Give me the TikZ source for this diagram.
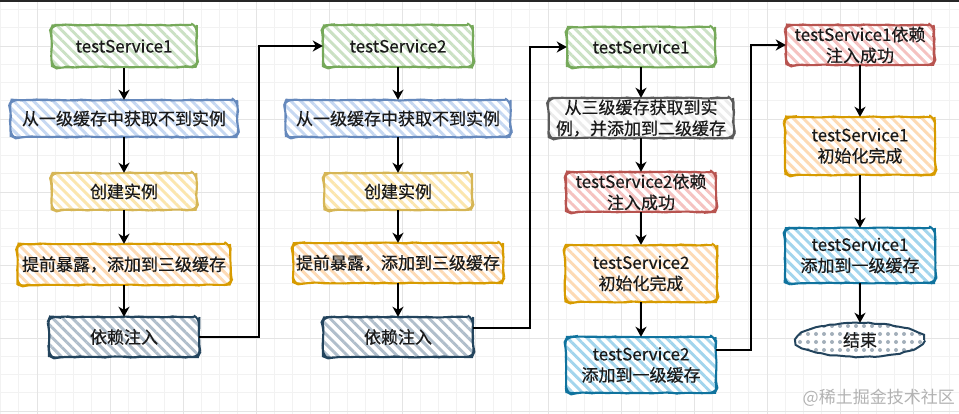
\documentclass[tikz,border=0pt]{standalone}
\usepackage{fontspec}
\setmainfont[FakeBold=0.4]{Noto Sans CJK SC}
\newfontfamily\markfont{Noto Sans CJK SC}
\usepackage{xcolor}
\definecolor{ink}{HTML}{1A1A1A}
\definecolor{gstroke}{HTML}{76A95A}
\definecolor{gfill}{HTML}{CBE1C4}
\definecolor{bstroke}{HTML}{6689BC}
\definecolor{bfill}{HTML}{C6D8F2}
\definecolor{ystroke}{HTML}{D6B656}
\definecolor{yfill}{HTML}{FBE6AE}
\definecolor{ostroke}{HTML}{D79B00}
\definecolor{ofill}{HTML}{FDDAB4}
\definecolor{nstroke}{HTML}{23445D}
\definecolor{nfill}{HTML}{B0BECB}
\definecolor{dotfill}{HTML}{A3AFBA}
\definecolor{rstroke}{HTML}{B85450}
\definecolor{rfill}{HTML}{F5C2C0}
\definecolor{mstroke}{HTML}{5A5A5A}
\definecolor{mfill}{HTML}{EBEBEB}
\definecolor{cstroke}{HTML}{10739E}
\definecolor{cfill}{HTML}{A2D5ED}
\definecolor{gridmin}{HTML}{F2F2F2}
\definecolor{gridmaj}{HTML}{E4E4E4}
\usetikzlibrary{positioning,arrows.meta,shapes.geometric,patterns.meta,decorations.pathmorphing}
\tikzset{
  >={Stealth[length=10pt,width=11pt,inset=3pt]},
  rough/.style={decorate,decoration={random steps,segment length=5pt,amplitude=0.5pt}},
  blk/.style 2 args={rounded corners=6pt,align=center,inner sep=0pt,text=ink,
    font=\fontsize{17}{21}\selectfont,preaction={fill=white},
    pattern={Lines[angle=-45,distance=7pt,line width=2.9pt]},pattern color=#2,
    postaction={draw=#1,line width=2pt,rough}},
  blkg/.style={blk={gstroke}{gfill}},
  blkb/.style={blk={bstroke}{bfill}},
  blky/.style={blk={ystroke}{yfill}},
  blko/.style={blk={ostroke}{ofill}},
  blkn/.style={blk={nstroke}{nfill}},
  blkr/.style={blk={rstroke}{rfill}},
  blkm/.style={blk={mstroke}{mfill}},
  blkc/.style={blk={cstroke}{cfill}},
  term/.style={ellipse,inner sep=0pt,text=ink,font=\fontsize{17}{21}\selectfont,
    preaction={fill=white},pattern={Dots[radius=2pt,distance=8pt]},pattern color=dotfill,
    postaction={draw=nstroke,line width=2pt,rough}},
  flow/.style={->,draw=black,line width=1.6pt},
}
\pgfmathsetseed{7}
\begin{document}
\begin{tikzpicture}[x=1pt,y=-1pt]
  \useasboundingbox (0,0) rectangle (959,414);
  % background grid
  \foreach \gx in {0.5,18.75,...,959} \draw[gridmin,line width=0.6pt] (\gx,0) -- (\gx,414);
  \foreach \gy in {9.5,27.75,...,414} \draw[gridmin,line width=0.6pt] (0,\gy) -- (959,\gy);
  \foreach \gx in {37,110,...,959} \draw[gridmaj,line width=0.8pt] (\gx,0) -- (\gx,414);
  \foreach \gy in {46,119,...,414} \draw[gridmaj,line width=0.8pt] (0,\gy) -- (959,\gy);
  \fill[black!85] (0,0) rectangle (959,2.2);
  % column 1: testService1
  \node[blkg,minimum width=145pt,minimum height=42pt] (tsa) at (124,46) {testService1};
  \node[blkb,minimum width=227pt,minimum height=37pt] (geta) at (124,118.5) {从一级缓存中获取不到实例};
  \node[blky,minimum width=145pt,minimum height=37pt] (crea) at (124,191.5) {创建实例};
  \node[blko,minimum width=213pt,minimum height=41pt] (expa) at (124,264.5) {提前暴露，添加到三级缓存};
  \node[blkn,minimum width=150pt,minimum height=40pt] (depa) at (124,337) {依赖注入};
  % column 2: testService2
  \node[blkg,minimum width=150pt,minimum height=42pt] (tsb) at (398,46) {testService2};
  \node[blkb,minimum width=225pt,minimum height=37pt] (getb) at (398,118.5) {从一级缓存中获取不到实例};
  \node[blky,minimum width=148pt,minimum height=37pt] (creb) at (398,191.5) {创建实例};
  \node[blko,minimum width=210pt,minimum height=40pt] (expb) at (398,263) {提前暴露，添加到三级缓存};
  \node[blkn,minimum width=150pt,minimum height=40pt] (depb) at (398,337) {依赖注入};
  % column 3: back to testService1
  \node[blkg,minimum width=148pt,minimum height=40pt] (tsc) at (641,47) {testService1};
  \node[blkm,minimum width=185pt,minimum height=40pt] (getc) at (641,118) {从三级缓存获取到实\\例，并添加到二级缓存};
  \node[blkr,minimum width=150pt,minimum height=40pt] (injb) at (641,192) {testService2依赖\\注入成功};
  \node[blko,minimum width=152pt,minimum height=57pt] (initb) at (641,273.5) {testService2\\初始化完成};
  \node[blkc,minimum width=150pt,minimum height=56pt] (addb) at (641,365) {testService2\\添加到一级缓存};
  % column 4
  \node[blkr,minimum width=148pt,minimum height=40pt] (inja) at (860,45) {testService1依赖\\注入成功};
  \node[blko,minimum width=150pt,minimum height=58pt] (inita) at (860,146) {testService1\\初始化完成};
  \node[blkc,minimum width=150pt,minimum height=55pt] (adda) at (860,255.5) {testService1\\添加到一级缓存};
  \node[term,minimum width=128pt,minimum height=34pt] (fin) at (860,340) {结束};
  \foreach \a/\b in {tsa/geta,geta/crea,crea/expa,expa/depa,
      tsb/getb,getb/creb,creb/expb,expb/depb,
      tsc/getc,getc/injb,injb/initb,initb/addb,
      inja/inita,inita/adda,adda/fin}
    \draw[flow] (\a) -- (\b);
  \draw[flow] (depa.east) -- ++(60,0) |- (tsb.west);
  \draw[flow] ([yshift=9pt]depb.east) -- ++(57,0) |- (tsc.west);
  \draw[flow] ([yshift=15pt]addb.east) -- ++(35,0) |- (inja.west);
  \node[text=black!30,font=\markfont\fontsize{17}{20}\selectfont,anchor=east,inner sep=0pt] (wmark) at (955,398) {@稀土掘金技术社区};
\end{tikzpicture}
\end{document}
